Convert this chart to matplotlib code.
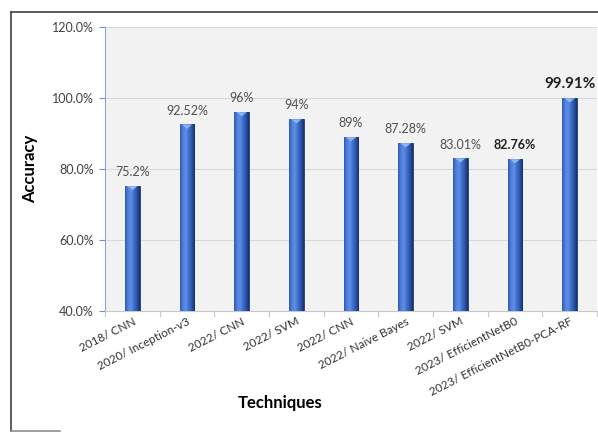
import matplotlib
matplotlib.use("Agg")
import matplotlib.pyplot as plt
import numpy as np
from matplotlib.colors import LinearSegmentedColormap
from matplotlib.lines import Line2D
import matplotlib.transforms as mtransforms

categories = ["2018/ CNN", "2020/ Inception-v3", "2022/ CNN", "2022/ SVM", "2022/ CNN",
              "2022/ Naive Bayes", "2022/ SVM", "2023/ EfficientNetB0", "2023/ EfficientNetB0-PCA-RF"]
values = [75.2, 92.52, 96, 94, 89, 87.28, 83.01, 82.76, 99.91]
value_labels = ["75.2%", "92.52%", "96%", "94%", "89%", "87.28%", "83.01%", "82.76%", "99.91%"]
yticks = [40, 60, 80, 100, 120]
ytick_labels = ["40.0%", "60.0%", "80.0%", "100.0%", "120.0%"]

plt.rcParams['font.family'] = ['Lato', 'DejaVu Sans']

fig = plt.figure(figsize=(5.98, 4.33), dpi=100)
W, H = 598, 433
ax = fig.add_axes([105 / W, 1 - 311 / H, (597 - 105) / W, (311 - 27) / H])
ax.set_facecolor('#f2f2f2')

x = np.arange(len(categories))
bw = 0.27
bars = ax.bar(x, [v - 40 for v in values], bottom=40, width=bw, color='#3a66c4',
              edgecolor='#1d3a78', linewidth=0.6, zorder=3)

cmap = LinearSegmentedColormap.from_list('cyl', ['#2f5ab4', '#4f80dc', '#5e8ee6', '#3f6fcc', '#2b55a8', '#15306a'])
grad = np.linspace(0, 1, 64).reshape(1, -1)
for b in bars:
    x0 = b.get_x(); w = b.get_width(); y0 = b.get_y(); h = b.get_height()
    ax.imshow(grad, cmap=cmap, extent=[x0, x0 + w, y0, y0 + h], aspect='auto', zorder=3.5)
    ax.add_patch(plt.Polygon([[x0 + w * 0.15, y0 + h], [x0 + w * 0.85, y0 + h], [x0 + w * 0.5, y0 + h - 1.2]],
                             closed=True, facecolor='#8fb2f0', edgecolor='none', zorder=4))

for i, (v, lab) in enumerate(zip(values, value_labels)):
    if i == 8:
        ax.text(x[i], v + 2.2, lab, ha='center', va='bottom', fontsize=11, fontweight='bold', color='#202020', zorder=5)
    elif i == 7:
        ax.text(x[i], v + 2.2, lab, ha='center', va='bottom', fontsize=9, fontweight='bold', color='#202020', zorder=5)
    else:
        ax.text(x[i], v + 2.2, lab, ha='center', va='bottom', fontsize=9, color='#505050', zorder=5)

ax.set_xlim(-0.5, len(categories) - 0.5)
ax.set_ylim(40, 120)
ax.set_yticks(yticks)
ax.set_yticklabels(ytick_labels, fontsize=9, color='#404040')
ax.yaxis.grid(True, color='#d9d9d9', linewidth=0.8, zorder=0)
ax.set_axisbelow(True)

ax.set_xticks(x)
ax.set_xticklabels(categories, rotation=27, ha='right', rotation_mode='anchor', fontsize=8.5, color='#303030')
offset = mtransforms.ScaledTranslation(4 / 100, -7 / 100, fig.dpi_scale_trans)
for lbl in ax.get_xticklabels():
    lbl.set_transform(lbl.get_transform() + offset)
ax.tick_params(axis='x', length=0)
for xb in np.arange(-0.5, len(categories), 1.0):
    ax.plot([xb, xb], [40, 38.6], color='#c8c8c8', lw=0.8, clip_on=False, zorder=2)

ax.tick_params(axis='y', length=4, color='#6f8fd0', pad=4)
for s in ['top', 'right']:
    ax.spines[s].set_visible(False)
ax.spines['left'].set_color('#8aa5dc')
ax.spines['bottom'].set_color('#c8c8c8')

ax.set_ylabel('Accuracy', fontsize=12, fontweight='bold', color='#000000')
ax.yaxis.set_label_coords((38 - 105) / 492, 0.5)
ax.set_xlabel('Techniques', fontsize=12, fontweight='bold', color='#000000')
ax.xaxis.set_label_coords((280 - 105) / 492, (311 - 395) / 284)

# outer border
fig.add_artist(Line2D([11 / W, 11 / W], [1 - 12 / H, 1 - 431 / H], color='#404040', lw=1.2, transform=fig.transFigure))
fig.add_artist(Line2D([11 / W, 1.0], [1 - 12 / H, 1 - 12 / H], color='#404040', lw=1.2, transform=fig.transFigure))
fig.add_artist(Line2D([11 / W, 60 / W], [1 - 431 / H, 1 - 431 / H], color='#909090', lw=1.2, transform=fig.transFigure))

fig.savefig('out.png', dpi=100)
